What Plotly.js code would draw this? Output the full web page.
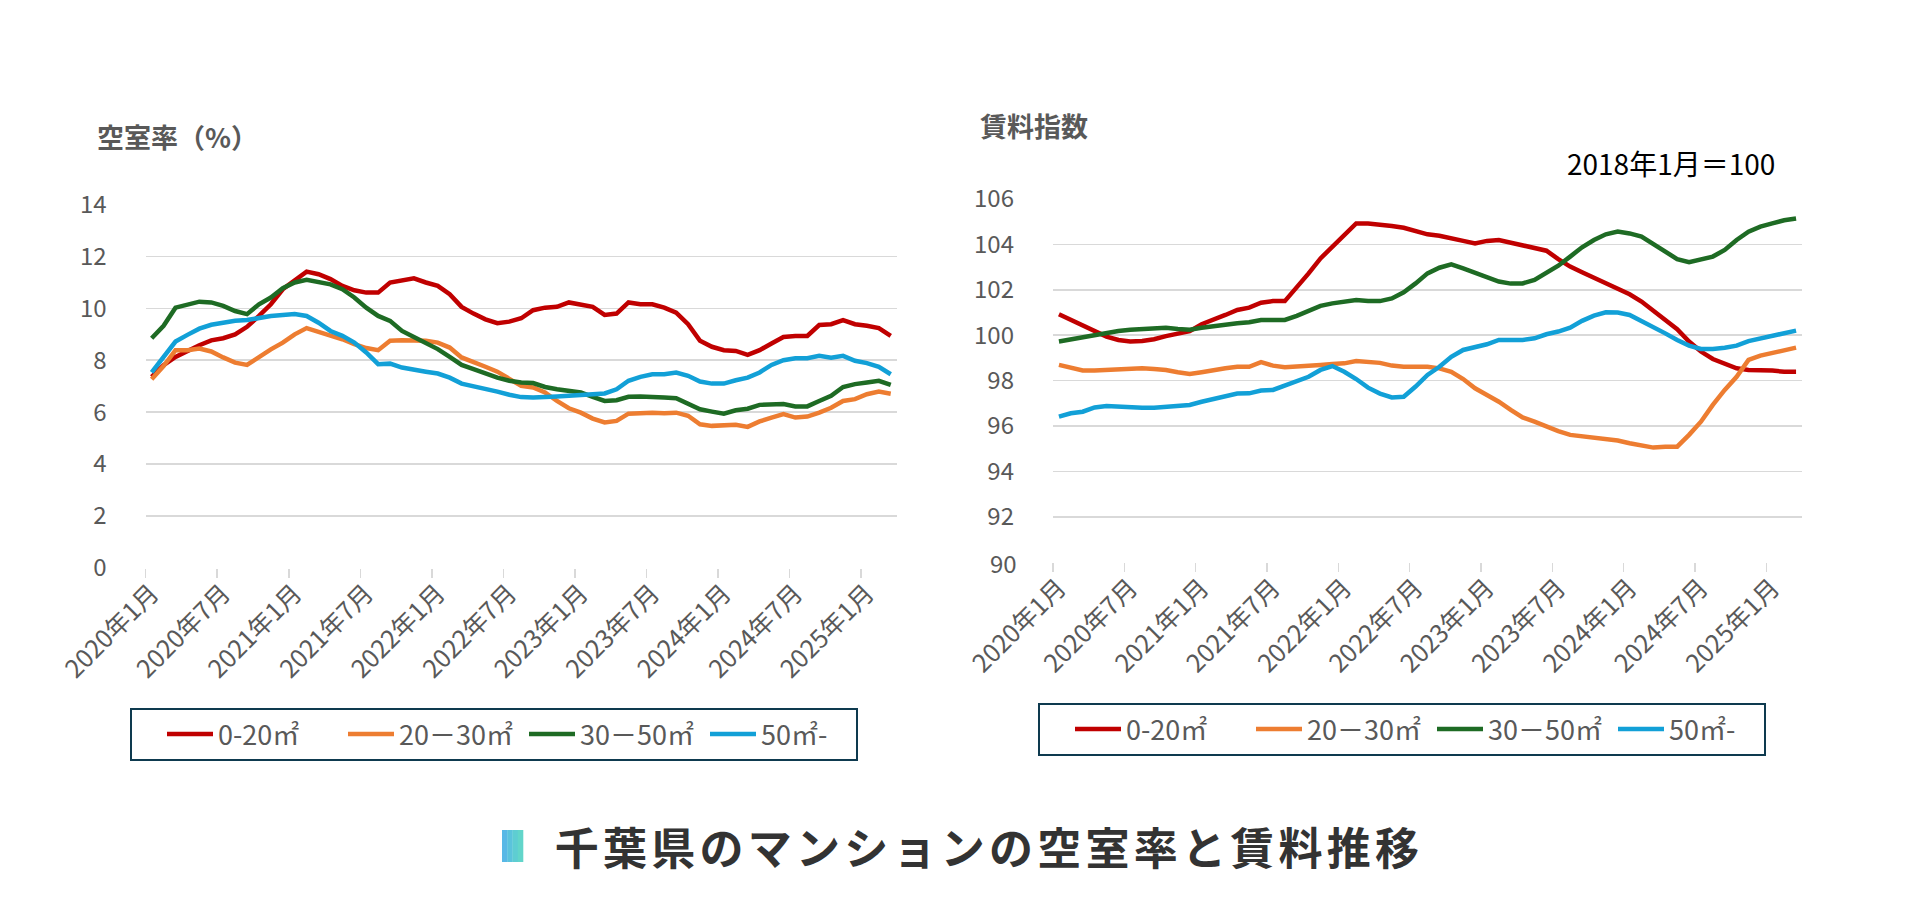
<!DOCTYPE html>
<html>
<head>
<meta charset="utf-8">
<script src="https://cdn.plot.ly/plotly-3.0.1.min.js"></script>
<style>
html,body{margin:0;padding:0;background:#ffffff;}
#chart{width:1921px;height:920px;}
</style>
</head>
<body>
<div id="chart"></div>
<script>
// ---- categories (2020年1月 .. 2025年3月) ----
const years = [2020, 2021, 2022, 2023, 2024, 2025];
const lastMonthOf2025 = 3;
const months = [];
for (const y of years) {
  for (let m = 1; m <= 12; m++) {
    if (y === 2025 && m > lastMonthOf2025) break;
    months.push(y + '年' + m + '月');
  }
}

const seriesNames = ['0-20㎡', '20－30㎡', '30－50㎡', '50㎡-'];
const seriesColors = ['#C00000', '#ED7D31', '#1E6B24', '#12A0D7'];

// ---- 空室率（%） ----
const vacancy0_20 = [7.36,7.81,8.13,8.36,8.58,8.77,8.85,9.0,9.29,9.71,
  10.16,10.74,11.09,11.42,11.32,11.13,10.87,10.7,10.61,10.61,
  11.0,11.09,11.16,11.0,10.87,10.55,10.06,9.8,9.58,9.43,
  9.49,9.62,9.93,10.03,10.06,10.23,10.16,10.06,9.75,9.8,
  10.23,10.16,10.16,10.03,9.84,9.39,8.75,8.52,8.39,8.36,
  8.21,8.39,8.65,8.9,8.94,8.94,9.36,9.39,9.55,9.39,
  9.33,9.24,8.94];
const vacancy20_30 = [7.27,7.78,8.39,8.39,8.45,8.34,8.11,7.91,7.82,8.13,
  8.42,8.68,9.0,9.24,9.11,8.94,8.81,8.62,8.47,8.39,
  8.75,8.77,8.77,8.75,8.68,8.49,8.11,7.91,7.75,7.56,
  7.27,7.01,6.95,6.76,6.43,6.15,5.98,5.75,5.6,5.66,
  5.94,5.98,5.98,5.96,5.98,5.86,5.53,5.47,5.47,5.51,
  5.43,5.64,5.79,5.92,5.79,5.83,5.98,6.17,6.43,6.5,
  6.69,6.79,6.71];
const vacancy30_50 = [8.85,9.33,10.03,10.14,10.26,10.23,10.10,9.9,9.78,10.16,
  10.42,10.78,11.0,11.1,11.02,10.93,10.74,10.42,10.03,9.71,
  9.52,9.13,8.9,8.68,8.43,8.13,7.82,7.66,7.49,7.33,
  7.21,7.14,7.12,6.97,6.88,6.82,6.76,6.59,6.43,6.46,
  6.59,6.6,6.6,6.56,6.54,6.31,6.11,6.02,5.94,6.07,
  6.13,6.28,6.31,6.31,6.22,6.22,6.43,6.63,6.97,7.08,
  7.14,7.21,7.05];
const vacancy50 = [7.53,8.13,8.72,8.98,9.22,9.37,9.45,9.52,9.55,9.65,
  9.71,9.75,9.78,9.71,9.45,9.13,8.94,8.68,8.30,7.85,
  7.87,7.72,7.62,7.56,7.49,7.33,7.1,7.01,6.91,6.79,
  6.67,6.58,6.56,6.56,6.6,6.63,6.67,6.69,6.72,6.88,
  7.21,7.36,7.46,7.46,7.53,7.40,7.18,7.10,7.10,7.23,
  7.33,7.53,7.82,8.0,8.08,8.08,8.17,8.10,8.17,7.98,
  7.89,7.75,7.46];

// ---- 賃料指数 (2018年1月＝100) ----
const rent0_20 = [100.92,100.67,100.42,100.18,99.94,99.79,99.72,99.74,99.82,99.96,
  100.08,100.18,100.48,100.67,100.89,101.11,101.21,101.43,101.5,101.5,
  102.09,102.72,103.38,103.9,104.44,104.92,104.92,104.88,104.81,104.73,
  104.56,104.44,104.38,104.29,104.15,104.04,104.15,104.19,104.07,103.94,
  103.87,103.72,103.35,103.02,102.77,102.53,102.25,102.05,101.80,101.48,
  101.07,100.67,100.26,99.72,99.28,98.95,98.72,98.54,98.47,98.47,
  98.44,98.39,98.39];
const rent20_30 = [98.69,98.59,98.45,98.44,98.47,98.51,98.54,98.54,98.51,98.47,
  98.37,98.29,98.37,98.47,98.54,98.61,98.61,98.81,98.66,98.59,
  98.61,98.66,98.69,98.73,98.76,98.86,98.83,98.78,98.66,98.61,
  98.61,98.61,98.54,98.39,98.07,97.66,97.37,97.07,96.71,96.38,
  96.19,95.97,95.78,95.61,95.56,95.50,95.42,95.36,95.24,95.12,
  95.05,95.09,95.09,95.61,96.19,96.93,97.59,98.17,98.91,99.10,
  99.20,99.32,99.45];
const rent30_50 = [99.72,99.82,99.91,100.01,100.11,100.18,100.24,100.27,100.30,100.33,
  100.27,100.24,100.33,100.40,100.48,100.52,100.57,100.67,100.67,100.67,
  100.85,101.07,101.29,101.40,101.48,101.55,101.5,101.5,101.62,101.89,
  102.28,102.72,102.97,103.12,102.94,102.75,102.55,102.36,102.27,102.28,
  102.43,102.75,103.06,103.46,103.87,104.19,104.44,104.56,104.48,104.34,
  104.0,103.68,103.35,103.21,103.31,103.46,103.75,104.19,104.56,104.78,
  104.92,105.06,105.14];
const rent50 = [96.41,96.56,96.63,96.82,96.88,96.85,96.82,96.81,96.81,96.85,
  96.93,96.93,97.07,97.19,97.34,97.43,97.44,97.56,97.59,97.77,
  97.99,98.17,98.47,98.64,98.39,98.07,97.69,97.43,97.26,97.29,
  97.74,98.25,98.61,99.05,99.35,99.45,99.60,99.79,99.79,99.79,
  99.86,100.04,100.16,100.33,100.63,100.86,101.01,101.0,100.89,100.63,
  100.33,100.08,99.79,99.54,99.39,99.39,99.45,99.54,99.74,99.86,
  99.98,100.08,100.20];

const vacancyTicks = [0, 2, 4, 6, 8, 10, 12, 14];
const rentTicks = [92, 94, 96, 98, 100, 102, 104, 106];
const rentBottom = 90;

const leftTitle = '空室率（%）';
const rightTitle = '賃料指数';
const baseNote = '2018年1月＝100';
const mainTitle = '千葉県のマンションの空室率と賃料推移';

// ---- build traces ----
const FONT = "'Noto Sans CJK JP', 'Noto Sans', sans-serif";
const vacancySeries = [vacancy0_20, vacancy20_30, vacancy30_50, vacancy50];
const rentSeries = [rent0_20, rent20_30, rent30_50, rent50];
const traces = [];
vacancySeries.forEach((vals, k) => {
  traces.push({type:'scatter', mode:'lines', x: months, y: vals, name: seriesNames[k],
    xaxis:'x', yaxis:'y', legend:'legend',
    line:{color: seriesColors[k], width: 4.5}, hoverinfo:'skip'});
});
rentSeries.forEach((vals, k) => {
  traces.push({type:'scatter', mode:'lines', x: months, y: vals, name: seriesNames[k],
    xaxis:'x2', yaxis:'y2', legend:'legend2',
    line:{color: seriesColors[k], width: 4.5}, hoverinfo:'skip'});
});

const W = 1921, H = 920;
const px = v => v / W;
const py = v => 1 - v / H;

const gridColor = '#D9D9D9';
const tickColor = '#595959';

function xAxis(domain) {
  return {
    type:'category', domain: domain, range:[-0.5, months.length - 0.5],
    tickmode:'linear', tick0:0, dtick:6, tickson:'boundaries',
    ticks:'outside', ticklen:9, tickwidth:1.5, tickcolor:gridColor, ticklabelstandoff:5,
    tickangle:-45, showgrid:false, zeroline:false, showline:false, automargin:false,
    tickfont:{family:FONT, size:25, color:tickColor}, fixedrange:true
  };
}
function legendBox(x, y) {
  return {orientation:'h', x:px(x), y:py(y), xanchor:'left', yanchor:'top',
    bordercolor:'#0E3A4F', borderwidth:2, bgcolor:'#ffffff',
    font:{family:FONT, size:27, color:tickColor},
    itemwidth:46, entrywidth:90, entrywidthmode:'pixels', indentation:30, valign:'middle'};
}

// decorative title marker (light blue to teal)
const markerColors = ['#58B8E6', '#5BC3DC', '#5ECDD2', '#62D5CA'];
const markerShapes = markerColors.map((c, i) => ({
  type:'rect', xref:'paper', yref:'paper',
  x0:px(502 + i * 5.25), x1:px(502 + (i + 1) * 5.25 + 0.3), y0:py(862), y1:py(830),
  fillcolor:c, line:{width:0}
}));

const layout = {
  width: W, height: H,
  margin:{l:0, r:0, t:0, b:0, autoexpand:false},
  paper_bgcolor:'#ffffff', plot_bgcolor:'#ffffff',
  font:{family:FONT, color:tickColor},
  showlegend:true,
  xaxis: Object.assign(xAxis([px(145.7), px(896.7)]), {anchor:'y'}),
  xaxis2: Object.assign(xAxis([px(1053), px(1802)]), {anchor:'y2'}),
  yaxis: {anchor:'x', domain:[py(567.7), py(204.7)], range:[0, 14],
    tickmode:'array', tickvals: vacancyTicks, showgrid:true, gridcolor:gridColor, gridwidth:1.6,
    zeroline:false, showline:false, ticks:'', ticklabelstandoff:38, automargin:false,
    tickfont:{family:FONT, size:24, color:tickColor}, fixedrange:true},
  yaxis2: {anchor:'x2', domain:[py(562.3), py(198.9)], range:[rentBottom, 106],
    tickmode:'array', tickvals: rentTicks, showgrid:true, gridcolor:gridColor, gridwidth:1.6,
    zeroline:false, showline:false, ticks:'', ticklabelstandoff:38, automargin:false,
    tickfont:{family:FONT, size:24, color:tickColor}, fixedrange:true},
  legend: legendBox(130, 708),
  legend2: legendBox(1038, 703),
  annotations: [
    {text: leftTitle, xref:'paper', yref:'paper', x:px(95), y:py(137), xanchor:'left', yanchor:'middle',
     showarrow:false, font:{family:FONT, size:27, color:tickColor, weight:'bold'}},
    {text: rightTitle, xref:'paper', yref:'paper', x:px(978), y:py(126), xanchor:'left', yanchor:'middle',
     showarrow:false, font:{family:FONT, size:27, color:tickColor, weight:'bold'}},
    {text: baseNote, xref:'paper', yref:'paper', x:px(1565), y:py(163), xanchor:'left', yanchor:'middle',
     showarrow:false, font:{family:FONT, size:28, color:'#000000'}},
    {text: String(rentBottom), xref:'paper', yref:'y2', x:px(1019), y:rentBottom, xanchor:'right', yanchor:'middle',
     showarrow:false, font:{family:FONT, size:24, color:tickColor}},
    {text: mainTitle, xref:'paper', yref:'paper', x:px(989), y:py(846),
     xanchor:'center', yanchor:'middle', showarrow:false,
     font:{family:FONT, size:44, color:'#333333', weight:'bold'}}
  ],
  shapes: markerShapes
};

Plotly.newPlot('chart', traces, layout, {displayModeBar:false, staticPlot:true}).then(gd => {
  // spaced-out main title, as in the reference
  gd.querySelectorAll('.annotation-text').forEach(t => {
    if (t.textContent === mainTitle) {
      t.style.letterSpacing = '4.25px';
    }
  });
});
</script>
</body>
</html>
